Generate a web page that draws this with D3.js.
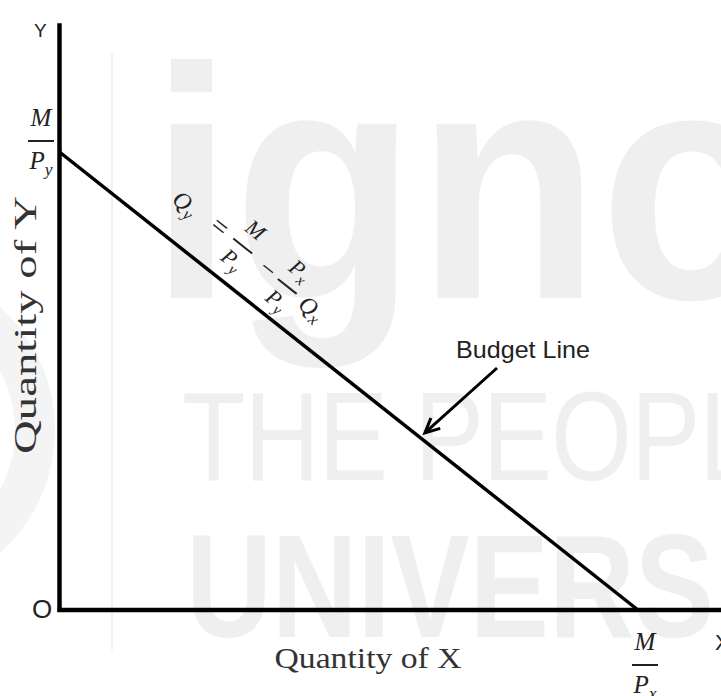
<!DOCTYPE html>
<meta charset="utf-8">
<style>
    body { margin: 0; background: #fff; }
    .axis-line { stroke: #000; stroke-width: 4.5px; }
    .budget { fill: none; stroke: #000; stroke-width: 3.5px; }
    .pointer { stroke: #000; stroke-width: 3px; fill: none; }
    .mark { fill: #efefef; font-family: "Liberation Sans", Arial, sans-serif; }
    .serif { font-family: "Liberation Serif", "Times New Roman", serif; fill: #333; }
    .math { font-family: "Liberation Serif", serif; font-style: italic; fill: #222; }
    .sans { font-family: "Liberation Sans", Arial, sans-serif; fill: #222; }
</style>

<svg width="721" height="696"></svg>
<script src="https://d3js.org/d3.v7.min.js"></script>
<script>

    // budget: income M, prices Px and Py (intercepts M/Px = 10, M/Py = 8)
    var income = 100;
    var prices = [10, 12.5];              // Px, Py
    var qxValues = [0, income / prices[0]];
    var qyValues = [income / prices[1], 0];
    var axisExtent = [11.45, 10.25];      // how far the x and y axes run
    var arrowTarget = [6.35];             // Qx where the "Budget Line" arrow points
    var axisNames = ["Quantity of X", "Quantity of Y"];
    var watermark = ["igno", "THE PEOPL", "UNIVERS"];

    var svg = d3.select("svg");

    var x = d3.scaleLinear().domain([0, qxValues[1]]).range([59.5, 638]);
    var y = d3.scaleLinear().domain([0, qyValues[0]]).range([610, 152]);

    // faint watermark behind everything
    var wm = svg.append("g");
    wm.append("path")
        .attr("d", d3.arc().innerRadius(125).outerRadius(165).startAngle(0).endAngle(Math.PI))
        .attr("transform", "translate(-110,430)")
        .attr("fill", "#f4f4f4");
    wm.append("text").attr("class", "mark")
        .attr("transform", "translate(150,298) scale(1,1.1)")
        .attr("font-size", 300).attr("font-weight", "bold")
        .text(watermark[0]);
    wm.append("text").attr("class", "mark")
        .attr("transform", "translate(182,480) scale(1,1.22)")
        .attr("font-size", 104)
        .attr("textLength", 575).attr("lengthAdjust", "spacing")
        .text(watermark[1]);
    wm.append("text").attr("class", "mark")
        .attr("transform", "translate(186,637) scale(1,1.26)")
        .attr("font-size", 116).attr("font-weight", "bold")
        .attr("textLength", 528).attr("lengthAdjust", "spacingAndGlyphs")
        .text(watermark[2]);
    wm.append("line")
        .attr("x1", 112).attr("x2", 112).attr("y1", 53).attr("y2", 650)
        .attr("stroke", "#ececec").attr("stroke-width", 1.5);

    // axes
    svg.append("line").attr("class", "axis-line")
        .attr("x1", x(0)).attr("x2", x(0))
        .attr("y1", y(0) + 2).attr("y2", y(axisExtent[1]));
    svg.append("line").attr("class", "axis-line")
        .attr("x1", x(0) - 2).attr("x2", x(axisExtent[0]))
        .attr("y1", y(0)).attr("y2", y(0));

    // budget line
    var pts = qxValues.map(function (d, i) { return { qx: d, qy: qyValues[i] }; });
    var line = d3.line()
        .x(function (d) { return x(d.qx); })
        .y(function (d) { return y(d.qy); });
    svg.append("path").datum(pts).attr("class", "budget").attr("d", line);

    // axis letters
    svg.append("text").attr("class", "sans").attr("x", 34).attr("y", 37)
        .attr("font-size", 19).text("Y");
    svg.append("text").attr("class", "sans").attr("x", 32).attr("y", 618)
        .attr("font-size", 26).text("O");
    svg.append("text").attr("class", "sans").attr("x", 715).attr("y", 650)
        .attr("font-size", 22).text("X");

    // axis titles
    svg.append("text").attr("class", "serif")
        .attr("x", 368).attr("y", 668)
        .attr("text-anchor", "middle").attr("font-size", 30)
        .attr("textLength", 187).attr("lengthAdjust", "spacingAndGlyphs")
        .text(axisNames[0]);
    svg.append("text").attr("class", "serif")
        .attr("transform", "translate(36,325) rotate(-90)")
        .attr("text-anchor", "middle").attr("font-size", 31)
        .attr("textLength", 258).attr("lengthAdjust", "spacingAndGlyphs")
        .text(axisNames[1]);

    // stacked fraction helper: bar at cy, numerator above, denominator below
    function fraction(g, cx, cy, num, den, size, w) {
        var f = g.append("g").attr("transform", "translate(" + cx + "," + cy + ")");
        f.append("line").attr("x1", -w / 2).attr("x2", w / 2)
            .attr("stroke", "#222").attr("stroke-width", 2);
        var n = f.append("text").attr("class", "math").attr("text-anchor", "middle")
            .attr("y", -size * 0.6).attr("font-size", size);
        n.append("tspan").text(num[0]);
        if (num[1]) n.append("tspan").attr("dy", size * 0.22).attr("font-size", size * 0.7).text(num[1]);
        var d = f.append("text").attr("class", "math").attr("text-anchor", "middle")
            .attr("y", size * 1.12).attr("font-size", size);
        d.append("tspan").text(den[0]);
        if (den[1]) d.append("tspan").attr("dy", size * 0.22).attr("font-size", size * 0.7).text(den[1]);
        return f;
    }

    // intercept labels
    fraction(svg, 41, 141, ["M"], ["P", "y"], 25, 26);
    fraction(svg, 645, 665, ["M"], ["P", "x"], 25, 26);

    // equation written along the budget line
    var angle = Math.atan2(y(0) - y(qyValues[0]), x(qxValues[1]) - x(0)) * 180 / Math.PI;
    var eq = svg.append("g")
        .attr("transform", "translate(" + x(0) + "," + y(qyValues[0]) + ") rotate(" + angle + ")");
    var q1 = eq.append("text").attr("class", "math").attr("x", 118).attr("y", -30).attr("font-size", 24);
    q1.append("tspan").text("Q");
    q1.append("tspan").attr("dy", 5).attr("font-size", 17).text("y");
    eq.append("text").attr("class", "math").attr("x", 172).attr("y", -32)
        .attr("text-anchor", "middle").attr("font-size", 28).attr("font-style", "normal").text("=");
    fraction(eq, 202, -40, ["M"], ["P", "y"], 22, 24);
    eq.append("text").attr("class", "math").attr("x", 236).attr("y", -29)
        .attr("text-anchor", "middle").attr("font-size", 26).attr("font-style", "normal").text("\u2212");
    fraction(eq, 262, -36, ["P", "x"], ["P", "y"], 22, 24);
    var q2 = eq.append("text").attr("class", "math").attr("x", 282).attr("y", -26).attr("font-size", 24);
    q2.append("tspan").text("Q");
    q2.append("tspan").attr("dy", 5).attr("font-size", 17).text("x");

    // "Budget Line" callout
    svg.append("text").attr("class", "sans")
        .attr("x", 456).attr("y", 358)
        .attr("font-family", "Lato, 'Open Sans', sans-serif")
        .attr("font-size", 24).attr("textLength", 134).attr("lengthAdjust", "spacingAndGlyphs")
        .text("Budget Line");

    var tx = x(arrowTarget[0]) - 2, ty = y(qyValues[0] - arrowTarget[0] * prices[0] / prices[1]) - 10;
    var sx = 497, sy = 368;
    var a = Math.atan2(ty - sy, tx - sx);
    svg.append("line").attr("class", "pointer")
        .attr("x1", sx).attr("y1", sy).attr("x2", tx).attr("y2", ty);
    var head = 16, spread = 0.45;
    svg.append("path").attr("class", "pointer")
        .attr("stroke-linejoin", "miter")
        .attr("d", "M" + (tx - head * Math.cos(a - spread)) + "," + (ty - head * Math.sin(a - spread)) +
            "L" + tx + "," + ty +
            "L" + (tx - head * Math.cos(a + spread)) + "," + (ty - head * Math.sin(a + spread)));

</script>
